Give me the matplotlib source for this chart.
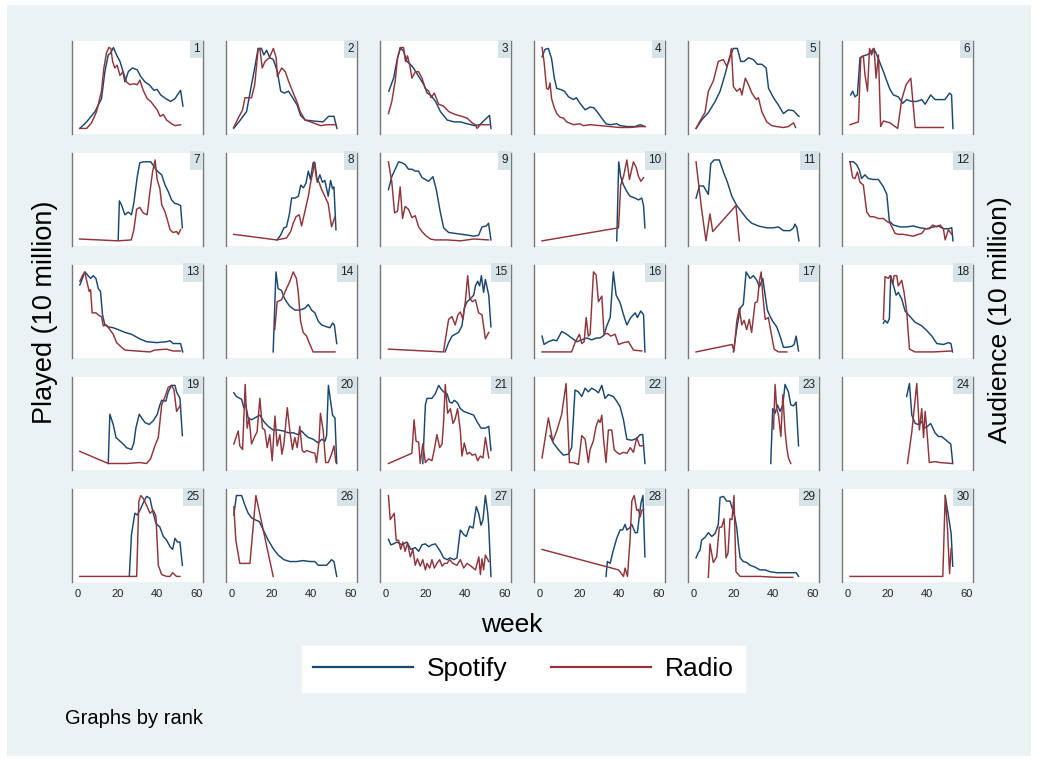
import matplotlib
matplotlib.use("Agg")
import matplotlib.pyplot as plt
from matplotlib.patches import Rectangle
from matplotlib.lines import Line2D

plt.rcParams['font.family'] = ['Liberation Sans', 'DejaVu Sans']

# ---------------- data (values = share of panel height, each panel on its own scale) ----------------
ranks = list(range(1, 31))
week_ticks = [0, 20, 40, 60]
series_names = ["Spotify", "Radio"]
y_title_left = "Played (10 million)"
y_title_right = "Audience (10 million)"
x_title = "week"
note = "Graphs by rank"

sp1_wk = [1.1,4.5,8.7,12,13.7,15.4,16.6,18,19.6,21.3,22.6,23.8,25.5,27.6,30,31.7,33.9,36,38.4,40,41.8,44.4,46.8,49,51.8,53]
sp1_v = [6,13,24,38,67,85,87,93,85,78,69,56,67,71,69,62,56,53,47,48,42,38,35,38,47,30]
rd1_wk = [1,4.5,7,9.5,12,13.2,14.5,15.7,16.7,17.6,18.7,19.9,21.3,22.9,24.6,26.3,28.3,30,31.3,33,35,36.8,40,41.5,43.1,44.8,47.3,49,51.8]
rd1_v = [6,6,12,24,46,71,87,93,92,78,71,74,63,67,56,53,54,53,58,47,38,35,26,19,21,15,11,9,10]

sp2_wk = [1,4,7.5,10,11.6,13.3,15,16.2,17.6,19.2,21,23,24.7,26.4,28.6,31,33,34.7,37,41,46,48.8,51.5,53]
sp2_v = [6,14,24,53,71,92,92,85,90,82,80,67,46,44,46,38,31,20,15,14,13,19,19,6]
rd2_wk = [1,3.3,5.5,6.7,10,11.6,13.3,14.2,15.4,16.8,19,21,22.4,23,25.2,27,28.6,31,32.8,34.5,37,41,44.8,48,50.7,52.5]
rd2_v = [7,17,26,39,39,53,90,92,71,78,82,92,82,62,71,67,57,44,35,24,15,12,9,10,10,10]

sp3_wk = [1.6,4,5.6,7.3,9,10.7,12.4,14,16.6,19.2,20.9,22.6,25.1,27.6,31,34.4,37.7,41,44.8,47.4,49.8,52.3,53]
sp3_v = [46,60,78,93,89,78,75,71,62,53,44,42,35,24,15,13,13,11,9,10,15,20,6]
rd3_wk = [1.4,3.1,4.8,6,7.6,9,10,11,12.4,13.2,14.9,16.6,18.3,20,21.7,22.9,24.5,26.7,29.2,31.8,35,38.4,41,43.5,45.2,46,47.7,52]
rd3_v = [22,35,57,82,93,93,78,84,71,60,67,67,60,49,46,39,44,32,30,24,21,19,17,12,10,6,10,10]

sp4_wk = [1.2,2.7,4.4,6,7.4,8.6,10.3,12.5,14.5,17,18.5,20.3,22.9,25.4,27.4,29.6,31.3,33.4,35.5,38.8,40.5,43.9,48,50.6,53]
sp4_v = [83,91,92,81,60,49,48,46,40,37,39,33,26,29,28,22,17,11,10,11,9,8,8,10,8]
rd4_wk = [1.2,2.2,3.5,4.4,5.2,6,7.4,8.6,10.3,12,13.6,17,20.3,22,25.4,30.4,35.5,40.5,45.5,50.6,53]
rd4_v = [93,78,49,48,55,38,28,22,18,17,13,10,11,9,10,9,8,7,7,8,8]

sp5_wk = [1.2,4,7.4,10.8,13.3,15.8,18,20,22,23.7,25.4,27.6,30,32.1,34.3,36.5,37.7,40.2,42.7,45.2,47.7,50.3,52,53]
sp5_v = [6,15,23,35,46,64,82,92,92,78,78,82,80,75,75,71,49,39,31,22,26,25,21,19]
rd5_wk = [1.2,3.2,5.7,7.4,9.9,12.4,15,16.6,18,19,20,21.7,23.4,24.3,26,27.6,29.3,31.5,32.6,34.3,36.8,39.3,41.8,45.2,47.7,50.3,51.3]
rd5_v = [6,14,23,46,57,78,80,73,79,92,51,46,49,42,60,53,44,37,39,24,13,9,8,7,8,12,7]

sp6_wk = [1.5,2.5,3.7,4.9,6.2,7.9,9.6,11.3,13,14.3,16,18,19.7,21.3,23,25.5,27.7,29.7,32.3,34.8,37.3,39,41.8,44,46.6,49,51.3,52.3,53]
sp6_v = [42,46,40,42,82,84,85,87,92,87,78,67,57,48,42,40,33,37,35,35,37,32,42,37,37,37,44,42,6]
rd6_wk = [1.2,5.4,6.6,7.9,8.7,10,11,12,13.3,14.3,15.5,16.6,18,21.3,25.2,27.2,29.4,31.8,34,48.2]
rd6_v = [10,13,82,84,64,46,92,85,92,60,85,8,14,12,6,37,53,60,7,7]

sp7_wk = [20.4,21,22,23.8,25.5,27.1,28.3,30,31.3,33.3,35,36.8,39,40.6,42.3,44,45.6,47.3,49,49.8,51.8,52.7]
sp7_v = [6,48,44,33,36,33,46,74,89,90,90,90,83,79,76,65,58,49,45,45,43,19]
rd7_wk = [1,20.4,27,28.3,29.7,31.3,33,35,36.4,37.7,39,40,41.4,42.3,44,45.1,46.5,48,49.8,50.7,51.8]
rd7_v = [7,5,6,17,39,41,35,33,58,79,92,71,61,44,36,28,17,14,15,12,17]

sp8_wk = [22.9,24.6,26.3,27.6,29,30.2,31.9,33.6,34.8,36.1,37.4,38.6,39.7,41,41.9,43.1,44.4,45.7,46.9,48.6,49.8,50.8,51.5,52.5]
sp8_v = [6,11,19,20,33,51,51,53,65,62,67,80,71,89,89,68,76,68,70,53,70,61,63,17]
rd8_wk = [1,22.6,27.6,29.7,31,32.4,34,35.2,36.9,38.6,39.7,41,41.5,42.8,44,45.3,46.9,48.6,50.3,52]
rd8_v = [12,6,8,15,24,31,33,21,37,53,67,80,90,71,68,60,53,45,20,31]

sp9_wk = [1.4,3.1,4.8,6.5,8.2,9.8,11.5,13.2,14.9,16.6,18.3,20,21.6,23.8,25.5,27.5,29.2,31.7,35,38.4,41.8,44.3,46.8,48.5,50.7,51.8,53]
sp9_v = [60,74,82,90,89,87,82,82,80,80,73,71,69,74,60,36,19,14,13,12,11,10,11,20,21,24,6]
rd9_wk = [1.4,3.1,4.5,6,7.3,8.5,9.8,11.5,13.2,14.9,16.6,18.3,20,22.5,25,30.9,37.6,44.3,51.8]
rd9_v = [90,68,35,37,63,29,42,39,30,32,20,15,11,7,6,6,5,7,6]

sp10_wk = [38.8,39.8,40.8,42.2,43.9,45.5,48,49.8,51.4,52.3,53]
sp10_v = [5,90,74,65,58,53,51,49,51,43,19]
rd10_wk = [1.2,39.7,40.8,42.2,43.9,45.2,47.2,48.6,49.8,51,52.3]
rd10_v = [5,19,65,74,92,71,90,84,74,69,73]

sp11_wk = [1.2,2.9,4.9,7.4,8.6,10.3,12.9,15,17,19.2,21.7,24.2,26.7,29.2,32.6,36.8,40.2,42.7,45.2,48.6,50.3,51,52,53]
sp11_v = [51,64,64,55,88,92,92,79,68,53,43,36,29,24,21,19,19,20,16,16,19,23,19,5]
rd11_wk = [1.2,4,6.2,8.2,9.6,21.3,23]
rd11_v = [90,39,5,34,15,43,5]

sp12_wk = [1.2,2.9,4.5,5.9,7,8.7,10.4,13,15.5,18,19.7,21,23,26.4,29.7,33,36.5,39.8,43.2,45.7,48.2,50.7,52.4,53]
sp12_v = [90,90,87,81,72,76,72,71,71,63,55,26,22,20,20,21,19,18,20,21,18,18,19,5]
rd12_wk = [1.2,2.5,3.7,4.9,6.2,7.9,9.6,11.3,13,15.5,18,19.7,21.3,23.9,25.5,28,30.6,33,35.6,37.3,39,41.1,42.8,44.9,46.6,48.2,49.1,50.7,52.4]
rd12_v = [90,73,72,79,68,65,36,31,31,29,29,26,24,13,12,12,11,10,12,13,18,18,22,20,22,18,6,17,12]

sp13_wk = [1.1,2.4,3.6,5.3,6.5,7.8,9.2,10.4,11.5,12.5,13.7,15.4,17.9,20.4,23.8,27.1,31.3,34.7,39.8,44.8,46.5,48.1,51.8,52.9]
sp13_v = [78,85,92,88,85,88,85,74,71,46,35,33,32,30,27,25,20,17,16,17,18,15,15,6]
rd13_wk = [1.1,2.4,3.6,4.5,5.8,6.5,7.3,9.2,10.8,12,12.9,14.5,16.2,17.9,19.6,22.1,23.8,29.7,36.4,38.8,44.8,48.1,51.8]
rd13_v = [82,88,92,83,71,73,48,48,45,44,34,35,30,25,16,11,8,7,6,8,9,7,7]

sp14_wk = [20.9,22.3,23.4,25.1,26.3,27.6,29.3,31.8,34.4,36.9,38.6,40.2,41.9,43.6,45.3,47.8,49.5,50.8,51.7,52.9]
sp14_v = [6,92,74,72,65,60,55,51,51,53,57,51,48,39,35,33,32,37,35,15]
rd14_wk = [21.7,22.9,25.1,27.6,29.3,31,32.6,33.5,34.7,36,37.7,39.4,41,46.1,52]
rd14_v = [30,60,62,74,82,92,85,71,39,27,23,14,6,6,6]

sp15_wk = [29.9,31.7,33.4,35,36.7,38.4,39.6,41,42.6,44.3,45.2,46.3,47.3,48.2,49.3,50.2,51.9,53]
sp15_v = [6,16,23,25,27,34,53,60,63,67,77,82,77,88,70,84,67,33]
rd15_wk = [1.4,29.1,30.5,31.7,33.4,35,36.4,37.6,38.9,40.1,41.3,42.3,43.6,45.2,46.8,48.5,50.2,51.9]
rd15_v = [9,6,25,41,44,35,46,49,41,60,88,64,60,62,48,46,20,27]

sp16_wk = [1.2,2.2,4.4,6.9,8.6,11.1,13.6,16.1,18.7,21.2,23.7,26.2,28.7,30.4,32.4,33.8,35.5,37.1,38.5,40.5,42.2,43.9,45.9,48.1,49.2,50.9,52.3,53]
sp16_v = [23,14,17,19,18,28,25,21,17,19,21,19,21,21,24,34,43,92,67,59,46,35,43,48,43,50,46,6]
rd16_wk = [1.2,16.1,17.8,20,21.2,22.4,23.4,24.5,25.4,27.1,28.4,29.6,31.3,32.4,34.1,35.8,38,39.7,42.2,44.7,47.2,51.4]
rd16_v = [6,6,16,25,15,17,43,23,25,92,89,60,66,25,26,23,25,14,16,17,8,7]

sp17_wk = [20,21.7,23.4,25,26.4,28.4,30.1,31.8,33.1,34.8,36,37.1,38.5,39.8,41.8,43.5,45.2,46.9,49.4,50.6,51.6,52.8]
sp17_v = [6,31,53,57,92,85,88,83,76,85,67,51,44,39,33,23,11,11,12,14,23,7]
rd17_wk = [1.2,19.3,20.3,21.7,23,24.2,25.4,26.7,28,29.2,30.9,32.1,33.1,34,34.8,36,37.6,39.3,40.5,42.7,46.9]
rd17_v = [6,14,7,39,53,35,40,30,41,27,59,60,82,92,67,41,43,23,9,6,6]

sp18_wk = [18,18.8,20,21,21.7,23,24.4,25.5,27.2,28.9,31.4,33.9,37.3,39.8,42.4,44.9,48.2,50.8,52,52.8]
sp18_v = [37,40,37,42,88,78,67,70,63,50,44,38,34,29,23,15,14,16,15,6]
rd18_wk = [18,18.8,20.5,21.3,22.7,23.4,24.7,25.5,27.2,28.4,29.7,31.1,33.9,43.2,52.4]
rd18_v = [41,87,85,88,79,88,88,77,83,70,50,9,6,6,7]

sp19_wk = [15.4,16.2,17.9,19.3,21.3,22.9,24.6,27.1,28.3,29.3,31,32.2,33.9,36,38.1,40.1,41.4,42.3,44.4,45.6,47.3,49,49.8,51.5,52.7]
sp19_v = [7,60,49,35,31,28,24,22,29,45,60,56,51,49,53,60,70,75,74,84,91,91,84,77,37]
rd19_wk = [1.1,15.4,24.6,31.3,34.7,36.7,38.9,40.6,42.3,44,45.6,47.3,48.5,49.8,51.8]
rd19_v = [20,7,7,8,7,12,26,35,70,79,89,91,86,63,70]

sp20_wk = [1.1,2.4,5,6.1,7.1,8.3,10,12.5,14.2,16.2,18.4,20.9,23.4,26,28.5,31,33.6,35.2,36.9,38.6,41.1,43.6,45.3,47,47.8,48.7,49.8,50.8,52,52.9]
sp20_v = [83,79,76,67,70,56,54,57,59,52,47,43,43,42,40,40,38,42,38,35,33,29,33,31,37,91,74,59,56,7]
rd20_wk = [1.1,3.3,4.1,5.5,6.8,7.8,8.8,10,11.6,12.8,14.2,15.5,16.7,17.9,19.2,20.4,21.8,22.9,24.3,25.3,26.3,28,29.3,30.6,31.8,33,34.3,35.5,36.5,37.7,40.2,41.9,42.7,44,44.7,46.1,47.3,48.6,50.3,51.5,52.5]
rd20_v = [28,42,26,22,92,45,56,28,36,41,77,45,43,24,38,10,58,26,38,17,28,67,42,22,35,24,47,21,19,21,19,18,8,31,61,42,8,8,17,26,8]

sp21_wk = [18.7,20,20.8,23.3,25,26.7,27.9,29.2,30.9,32.2,33.4,34.6,36.2,37.6,39.3,41.8,44.3,46,48,50.2,51.9,53]
sp21_v = [7,70,77,77,82,91,87,84,82,73,72,75,72,66,63,61,59,52,45,45,47,21]
rd21_wk = [1.4,13.2,14.3,15.3,16.6,17.4,18.7,20,21.6,23.3,24.5,25.8,27.2,28.4,29.2,30,31.2,32.6,33.9,35,36.2,37.6,38.4,39.6,41,42.3,43.5,45.2,46.3,47.7,49,50.2,51.9]
rd21_v = [7,18,54,31,30,7,28,8,12,10,22,38,24,28,53,92,61,66,50,55,66,42,15,29,17,19,16,17,10,15,13,35,13]

sp22_wk = [5.2,6.9,9.4,11.9,14.5,16.1,17.8,19.5,21.2,22.9,24.5,26.2,27.9,29.6,31.3,32.9,34.6,37.1,38.8,40.5,42.2,43.9,46.4,48.9,50.6,51.9,53]
sp22_v = [37,29,22,16,17,24,86,84,79,88,84,88,86,83,91,77,81,79,74,68,54,33,32,34,38,38,7]
rd22_wk = [1.2,4.4,6.6,8.6,11.1,13.3,15,17,19.5,21.2,22.9,24.5,25.4,27,28.4,29.6,30.4,31.3,32.1,33.4,34.6,36.3,37.5,38.8,40.2,42.2,43.9,45.6,47.2,48.9,50.3,51.9]
rd22_v = [13,56,31,42,60,93,8,8,6,37,33,8,22,31,47,54,51,59,35,8,43,43,22,19,17,19,18,24,19,35,26,26]

sp23_wk = [38.8,39.8,41,42.2,43.5,44.9,46,47.7,48.9,50.3,51.6,52.8]
sp23_v = [7,66,61,70,63,70,92,84,70,69,73,26]
rd23_wk = [40.2,41,41.8,42.7,43.9,44.9,46,46.9,47.7,48.9]
rd23_v = [44,92,66,59,36,81,42,24,13,7]

sp24_wk = [29.7,31.1,32.3,34,35.6,37.3,38.5,40.2,41.8,44,45.7,47.3,49,50.7,51.9,52.9]
sp24_v = [79,93,59,50,49,52,45,47,50,40,36,36,33,30,28,7]
rd24_wk = [30.1,32.3,34.8,36.1,37.3,38.2,39,39.8,41.1,44,46.5,52.4]
rd24_v = [7,41,93,43,66,35,63,45,8,9,8,7]

sp25_wk = [26,27.1,28.8,30,31.3,33,34.7,36.4,37.7,39.4,41.4,43.1,44.8,46.5,47.8,49,50.2,51.5,52.7]
sp25_v = [6,51,74,72,77,85,92,90,77,63,59,49,45,38,35,47,43,43,18]
rd25_wk = [1.1,29.7,30.8,31.8,33,35,36.4,38.1,39.4,40.6,42.3,44.8,46.5,47.8,49.8,51.5]
rd25_v = [6,6,87,93,90,81,74,77,71,18,8,6,6,10,6,6]

sp26_wk = [1.1,2.4,5,6.6,8.3,10,11.7,13.9,15.9,18.4,20.9,23.4,26.3,29.3,32.7,36,39.4,41.9,43.6,47.8,50.3,51.5,52.9]
sp26_v = [72,93,93,83,74,69,67,65,56,45,36,29,24,22,22,23,22,22,18,18,24,22,6]
rd26_wk = [1.1,2.1,4.1,9.2,12.2,20.9]
rd26_v = [81,45,20,20,93,6]

sp27_wk = [1.4,2.6,4,5.6,8.2,10.7,12.7,14.9,16.6,18.3,20,21.6,23.3,25,27.5,29.2,30.9,32.5,34.3,35.9,37.6,39.3,40.6,42.3,44,45.6,46.8,48,49,50.2,51.4,51.9,53]
sp27_v = [46,40,41,43,40,43,35,37,33,40,41,38,40,41,33,26,24,26,24,26,56,51,49,60,58,81,74,61,67,93,74,60,6]
rd27_wk = [1.4,2.3,4.3,5.3,6.5,7.6,8.7,9.8,11,12.4,13.7,14.9,16,17.4,18.7,20,20.8,22.2,23.3,24.5,25.8,27.2,28.4,29.6,30.9,32.2,33.9,35.9,37.6,39.3,41,43,45.2,46.9,47.7,48.5,49.3,50.2,51.9]
rd27_v = [93,67,74,45,45,35,43,33,42,27,35,18,25,17,24,13,20,15,24,15,20,24,17,20,20,24,20,18,24,15,20,17,13,27,8,25,13,29,22]

sp28_wk = [33.4,34.1,35.5,36.8,38.8,40.5,41.8,43,43.9,45.2,46.4,48.1,49.2,50.3,51,52,53]
sp28_v = [6,22,20,32,47,56,56,62,56,58,62,53,53,73,85,93,27]
rd28_wk = [1.2,39.7,40.5,42.2,43,44.2,45.5,46.4,47.6,48.9,49.7,50.6,51.4,52.3]
rd28_v = [35,13,11,6,15,6,45,87,93,77,78,70,77,78]

sp29_wk = [1.2,2.4,3.2,4,5.7,7.4,9.1,10.8,12.4,13.3,15,16.6,18.3,19.3,20.8,21.7,22.5,23.4,25,26.7,28.4,30.9,33.4,36,38.5,41.8,45.2,48.6,51.6,52.8]
sp29_v = [26,32,34,45,48,53,49,52,62,91,92,87,87,80,69,58,41,26,22,21,18,16,13,13,11,10,10,10,10,6]
rd29_wk = [7.4,8.2,9.9,11.6,12.9,14.1,15.3,16.3,17.3,18.3,19.3,20.3,21.3,23.4,26.7,33.4,41.8,49.9]
rd29_v = [5,41,21,27,59,59,68,26,31,68,67,93,11,6,6,6,5,5]

sp30_wk = [49.1,50.8,52.1,52.9]
sp30_v = [93,70,52,17]
rd30_wk = [1.2,47.9,49.1,50.3,51.3,52.1]
rd30_v = [6,6,93,56,9,36]

spotify_weeks = [sp1_wk, sp2_wk, sp3_wk, sp4_wk, sp5_wk, sp6_wk, sp7_wk, sp8_wk, sp9_wk, sp10_wk,
                 sp11_wk, sp12_wk, sp13_wk, sp14_wk, sp15_wk, sp16_wk, sp17_wk, sp18_wk, sp19_wk, sp20_wk,
                 sp21_wk, sp22_wk, sp23_wk, sp24_wk, sp25_wk, sp26_wk, sp27_wk, sp28_wk, sp29_wk, sp30_wk]
spotify_vals = [sp1_v, sp2_v, sp3_v, sp4_v, sp5_v, sp6_v, sp7_v, sp8_v, sp9_v, sp10_v,
                sp11_v, sp12_v, sp13_v, sp14_v, sp15_v, sp16_v, sp17_v, sp18_v, sp19_v, sp20_v,
                sp21_v, sp22_v, sp23_v, sp24_v, sp25_v, sp26_v, sp27_v, sp28_v, sp29_v, sp30_v]
radio_weeks = [rd1_wk, rd2_wk, rd3_wk, rd4_wk, rd5_wk, rd6_wk, rd7_wk, rd8_wk, rd9_wk, rd10_wk,
               rd11_wk, rd12_wk, rd13_wk, rd14_wk, rd15_wk, rd16_wk, rd17_wk, rd18_wk, rd19_wk, rd20_wk,
               rd21_wk, rd22_wk, rd23_wk, rd24_wk, rd25_wk, rd26_wk, rd27_wk, rd28_wk, rd29_wk, rd30_wk]
radio_vals = [rd1_v, rd2_v, rd3_v, rd4_v, rd5_v, rd6_v, rd7_v, rd8_v, rd9_v, rd10_v,
              rd11_v, rd12_v, rd13_v, rd14_v, rd15_v, rd16_v, rd17_v, rd18_v, rd19_v, rd20_v,
              rd21_v, rd22_v, rd23_v, rd24_v, rd25_v, rd26_v, rd27_v, rd28_v, rd29_v, rd30_v]

# ---------------- style ----------------
SPOTIFY_C = '#1a476f'
RADIO_C = '#90353b'
BG_C = '#eaf2f3'
LABEL_BOX_C = '#d6e3e9'
AXIS_C = '#777777'

W, H = 1038, 761
fig = plt.figure(figsize=(W / 100, H / 100), dpi=100)
fig.patch.set_facecolor('white')
fig.add_artist(Rectangle((7 / W, 1 - 756 / H), (1031 - 7) / W, (756 - 5) / H,
                         transform=fig.transFigure, facecolor=BG_C, edgecolor='none', zorder=-5))

col_left = [71.5 + 154.0 * c for c in range(6)]
row_top = [41, 152.5, 264.5, 377, 489]
pw, ph = 131.5, 93

for i, rank in enumerate(ranks):
    r, c = divmod(i, 6)
    ax = fig.add_axes([col_left[c] / W, 1 - (row_top[r] + ph) / H, pw / W, ph / H])
    ax.set_facecolor('white')
    ax.plot(spotify_weeks[i], spotify_vals[i], color=SPOTIFY_C, lw=1.05)
    ax.plot(radio_weeks[i], radio_vals[i], color=RADIO_C, lw=1.05)
    ax.set_xlim(-3.1, 63.1)
    ax.set_ylim(0, 100)
    ax.set_yticks([])
    ax.set_xticks(week_ticks)
    ax.tick_params(axis='x', length=0, pad=5, labelsize=8, labelcolor='#222222',
                   labelbottom=(r == 4))
    for s in ('top', 'bottom'):
        ax.spines[s].set_visible(False)
    for s in ('left', 'right'):
        ax.spines[s].set_color(AXIS_C)
        ax.spines[s].set_linewidth(1.0)
    ax.annotate(str(rank), xy=(1, 1), xycoords='axes fraction', xytext=(-2.4, -1.4),
                textcoords='offset points', ha='right', va='top', fontsize=8.5, color='#222222',
                bbox=dict(boxstyle='square,pad=0.28', facecolor=LABEL_BOX_C, edgecolor='none'))

fig.text(45 / W, 1 - 312 / H, y_title_left, rotation=90, ha='center', va='center', fontsize=19.5)
fig.text(1000 / W, 1 - 320 / H, y_title_right, rotation=90, ha='center', va='center', fontsize=19)
fig.text(512 / W, 1 - 625 / H, x_title, ha='center', va='center', fontsize=19)
fig.text(65 / W, 1 - 718 / H, note, ha='left', va='center', fontsize=14.5)

leg_handles = [Line2D([], [], color=SPOTIFY_C, lw=1.6), Line2D([], [], color=RADIO_C, lw=1.6)]
leg = fig.legend(leg_handles, series_names, loc='center', bbox_to_anchor=(523.5 / W, 1 - 669 / H),
                 ncol=2, fontsize=19, frameon=True, fancybox=False, framealpha=1,
                 handlelength=3.8, handletextpad=0.53, columnspacing=1.63, borderpad=0.42)
leg.get_frame().set_facecolor('white')
leg.get_frame().set_edgecolor('white')

fig.savefig('out.png', dpi=100, facecolor=fig.get_facecolor())
